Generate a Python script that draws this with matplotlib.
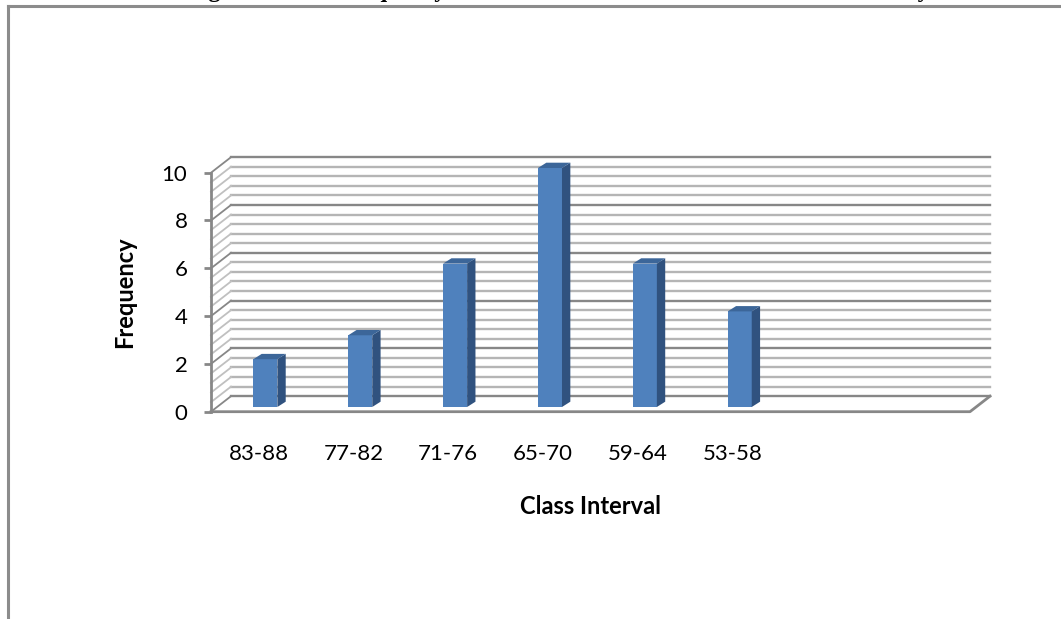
import matplotlib
matplotlib.use('Agg')
import matplotlib.pyplot as plt
from matplotlib.patches import Polygon
from matplotlib.lines import Line2D
import numpy as np

# ---- data ----
categories = ['83-88', '77-82', '71-76', '65-70', '59-64', '53-58']
frequencies = [2, 3, 6, 10, 6, 4]
n_slots = 8
y_ticks = [0, 2, 4, 6, 8, 10]
x_label = 'Class Interval'
y_label = 'Frequency'
title = 'Diagram 1: The Frequency Distribution of the Students in Statistics Ability'

# ---- style ----
FONT = 'Lato'
front_col = '#4F81BD'
side_col = '#30527F'
top_col = '#3C6699'
major_col = '#878787'
minor_col = '#B5B5B5'
diag_col = '#C0C0C0'

# 3-D geometry (data units)
wall_dx, wall_dy = 0.211, 0.65      # back wall offset
bar_w = 0.253                       # bar front face width
bar_off_x, bar_off_y = 0.073, 0.197 # bar position inside depth
bar_ddx, bar_ddy = 0.088, 0.222     # bar depth

fig = plt.figure(figsize=(10.61, 6.19), dpi=100)
ax = fig.add_axes([211 / 1061, 207.3 / 619, 759 / 1061, 239.0 / 619])
ax.set_xlim(0, n_slots)
ax.set_ylim(0, 10)

# back wall gridlines + side wall diagonals
levels = np.round(np.arange(0, 10.001, 0.4), 3)
for v in levels:
    major = abs(v / 2 - round(v / 2)) < 1e-6
    ax.add_line(Line2D([wall_dx, n_slots + wall_dx], [v + wall_dy, v + wall_dy],
                       color=major_col if major else minor_col, lw=1.7,
                       clip_on=False, zorder=1))
    ax.add_line(Line2D([0, wall_dx], [v, v + wall_dy],
                       color=major_col if major else diag_col, lw=1.3,
                       clip_on=False, zorder=1))

# floor edges
ax.add_line(Line2D([0, n_slots, n_slots + wall_dx], [0, 0, wall_dy],
                   color=major_col, lw=2.0, clip_on=False, zorder=2))

# bars
for i, v in enumerate(frequencies):
    x0 = i + 0.5 - bar_w / 2 + bar_off_x
    y0 = bar_off_y
    x1 = x0 + bar_w
    y1 = y0 + v
    ax.add_patch(Polygon([(x0, y0), (x1, y0), (x1, y1), (x0, y1)],
                         closed=True, fc=front_col, ec='none', zorder=5, clip_on=False))
    ax.add_patch(Polygon([(x1, y0), (x1 + bar_ddx, y0 + bar_ddy),
                          (x1 + bar_ddx, y1 + bar_ddy), (x1, y1)],
                         closed=True, fc=side_col, ec='none', zorder=5, clip_on=False))
    ax.add_patch(Polygon([(x0, y1), (x0 + bar_ddx, y1 + bar_ddy),
                          (x1 + bar_ddx, y1 + bar_ddy), (x1, y1)],
                         closed=True, fc=top_col, ec='none', zorder=5, clip_on=False))

# axes styling
for s in ['top', 'right', 'bottom']:
    ax.spines[s].set_visible(False)
ax.spines['left'].set_color(major_col)
ax.spines['left'].set_linewidth(2.0)
ax.spines['left'].set_zorder(3)
ax.set_facecolor('none')
ax.set_yticks(y_ticks)
ax.set_yticklabels([str(t) for t in y_ticks], fontsize=16, family=FONT, color='black')
ax.tick_params(axis='y', length=5, width=2, color=major_col, pad=12)
ax.set_xticks([i + 0.5 for i in range(len(categories))])
ax.set_xticklabels(categories, fontsize=16, family=FONT, color='black')
ax.tick_params(axis='x', length=0, pad=23)

ax.set_xlabel(x_label, fontsize=17, family=FONT, fontweight='bold', color='black')
ax.xaxis.set_label_coords(0.5, -(507 - 411.7) / 239.0)
ax.xaxis.label.set_va('center')
ax.set_ylabel(y_label, fontsize=17, family=FONT, fontweight='bold', color='black')
ax.yaxis.set_label_coords(-(211 - 125) / 759, 0.5)
ax.yaxis.label.set_va('center')

# outer chart frame (left and top edges)
fig.add_artist(Line2D([8 / 1061, 8 / 1061], [0, 1 - 6 / 619],
                      transform=fig.transFigure, color='#8C8C8C', lw=2.2))
fig.add_artist(Line2D([8 / 1061, 1], [1 - 6 / 619, 1 - 6 / 619],
                      transform=fig.transFigure, color='#8C8C8C', lw=2.2))

# clipped title (only the lower part is visible in the original)
fig.text(0.5 + 0.02, 1 + 3.5 / 619, title, ha='center', va='baseline',
         family='Liberation Serif', fontweight='bold', fontsize=17, color='black')

fig.savefig('out.png', dpi=100)
